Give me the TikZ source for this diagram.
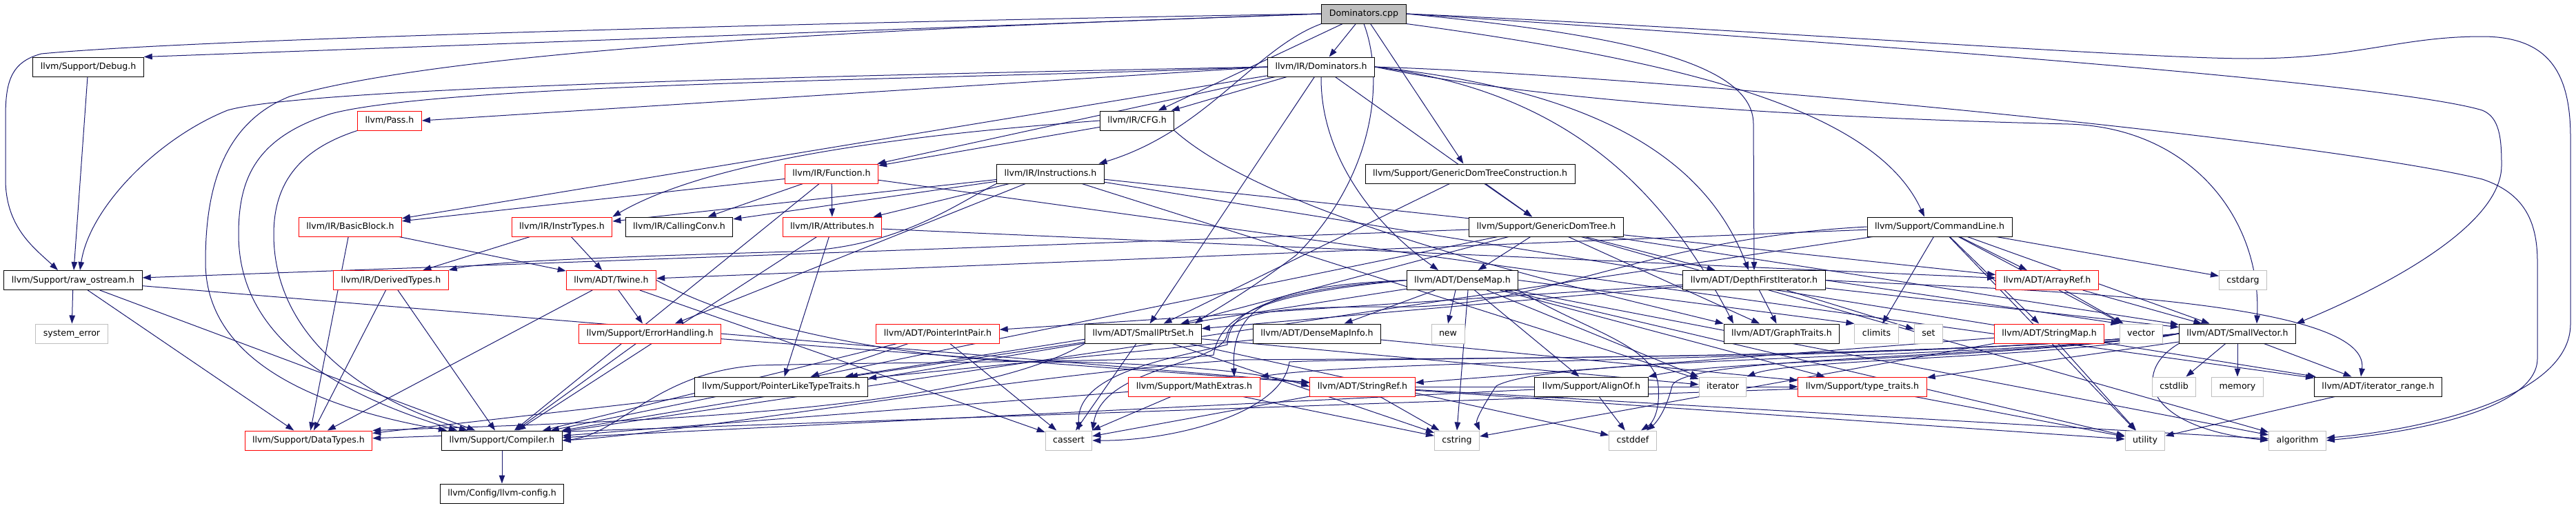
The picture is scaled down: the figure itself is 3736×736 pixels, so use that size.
\documentclass[tikz,border=0pt]{standalone}
\usepackage{fontspec}
\setmainfont{DejaVu Sans}
\usetikzlibrary{arrows.meta}
\definecolor{navyc}{RGB}{25,25,112}
\definecolor{grayb}{RGB}{191,191,191}
\pgfdeclarelayer{bg}
\pgfsetlayers{bg,main}
\begin{document}
\begin{tikzpicture}[x=1pt,y=-1pt,
  box/.style={rectangle, fill=white, line width=1pt, inner xsep=11pt, inner ysep=0pt,
    minimum height=28pt, text height=9.6pt, text depth=2.6pt,
    font=\fontsize{12.6pt}{15pt}\selectfont},
  nb/.style={box, draw=black},
  nr/.style={box, draw=red},
  ng/.style={box, draw=grayb},
  rootn/.style={box, draw=black, fill=grayb},
  conn/.style={draw=navyc, line width=1pt, -{Triangle[length=12pt,width=8.5pt]}}]
\useasboundingbox (0,0) rectangle (3736,736);
% nodes
\node[rootn] (cpp) at (1978,20) {Dominators.cpp};
\node[nb] (debug) at (128,97) {llvm/Support/Debug.h};
\node[nb] (domh) at (1916,97) {llvm/IR/Dominators.h};
\node[nr] (pass) at (565,175) {llvm/Pass.h};
\node[nb] (cfg) at (1649,175) {llvm/IR/CFG.h};
\node[nr] (func) at (1206,252) {llvm/IR/Function.h};
\node[nb] (instr) at (1523.5,252) {llvm/IR/Instructions.h};
\node[nb] (gdtc) at (2132,252) {llvm/Support/GenericDomTreeConstruction.h};
\node[nr] (bb) at (508,329) {llvm/IR/BasicBlock.h};
\node[nr] (itypes) at (815,329) {llvm/IR/InstrTypes.h};
\node[nb] (cc) at (985,329) {llvm/IR/CallingConv.h};
\node[nr] (attr) at (1207,329) {llvm/IR/Attributes.h};
\node[nb] (gdt) at (2242.5,329) {llvm/Support/GenericDomTree.h};
\node[nb] (cl) at (2813,329) {llvm/Support/CommandLine.h};
\node[nb] (raw) at (106,406.5) {llvm/Support/raw\_ostream.h};
\node[nr] (dt) at (567,406.5) {llvm/IR/DerivedTypes.h};
\node[nr] (twine) at (886.5,406.5) {llvm/ADT/Twine.h};
\node[nb] (dm) at (2121,406.5) {llvm/ADT/DenseMap.h};
\node[nb] (dfi) at (2544,406.5) {llvm/ADT/DepthFirstIterator.h};
\node[nr] (ar) at (2969,406.5) {llvm/ADT/ArrayRef.h};
\node[ng] (cstdarg) at (3253,406.5) {cstdarg};
\node[ng] (syserr) at (104,484) {system\_error};
\node[nr] (eh) at (942.5,484) {llvm/Support/ErrorHandling.h};
\node[nr] (pip) at (1360,484) {llvm/ADT/PointerIntPair.h};
\node[nb] (sps) at (1658,484) {llvm/ADT/SmallPtrSet.h};
\node[nb] (dmi) at (1910,484) {llvm/ADT/DenseMapInfo.h};
\node[ng] (new) at (2100,484) {new};
\node[nb] (gt) at (2584,484) {llvm/ADT/GraphTraits.h};
\node[ng] (climits) at (2721.5,484) {climits};
\node[ng] (set) at (2797,484) {set};
\node[nr] (sm) at (2972,484) {llvm/ADT/StringMap.h};
\node[ng] (vector) at (3105,484) {vector};
\node[nb] (sv) at (3245,484) {llvm/ADT/SmallVector.h};
\node[nb] (pltt) at (1133,561) {llvm/Support/PointerLikeTypeTraits.h};
\node[nr] (me) at (1732,561) {llvm/Support/MathExtras.h};
\node[nr] (sr) at (1976,561) {llvm/ADT/StringRef.h};
\node[nb] (ao) at (2308,561) {llvm/Support/AlignOf.h};
\node[ng] (iter) at (2498.5,561) {iterator};
\node[nr] (tt) at (2701,561) {llvm/Support/type\_traits.h};
\node[ng] (cstdlib) at (3153,561) {cstdlib};
\node[ng] (memory) at (3245,561) {memory};
\node[nb] (ir) at (3449,561) {llvm/ADT/iterator\_range.h};
\node[nr] (dtypes) at (447.5,639) {llvm/Support/DataTypes.h};
\node[nb] (comp) at (728,639) {llvm/Support/Compiler.h};
\node[ng] (cassert) at (1550,639) {cassert};
\node[ng] (cstring) at (2113,639) {cstring};
\node[ng] (cstddef) at (2368,639) {cstddef};
\node[ng] (utility) at (3111,639) {utility};
\node[ng] (algo) at (3332,639) {algorithm};
\node[nb] (cfgh) at (728,716) {llvm/Config/llvm-config.h};
% edges
\begin{pgfonlayer}{bg}
\fill[white] (0,0) rectangle (3736,736);
\foreach \s/\t in {cpp/domh, cpp/cfg, cpp/gdtc, debug/raw,
  domh/bb, domh/func, domh/cfg, domh/sps, domh/gdt,
  cfg/func,
  func/attr, func/cc, func/bb, func/comp, func/ir,
  instr/attr, instr/cc, instr/itypes, instr/eh, instr/ar, instr/ir, instr/iter,
  gdtc/gdt, gdtc/sps,
  gdt/dm, gdt/dfi, gdt/gt, gdt/sps, gdt/sv, gdt/comp, gdt/raw, gdt/algo,
  cl/ar, cl/sv, cl/sm, cl/twine, cl/comp, cl/climits, cl/cstdarg, cl/utility, cl/vector,
  bb/twine, bb/dtypes, itypes/twine, itypes/dt,
  attr/ar, attr/pltt, attr/comp, dt/dtypes, dt/comp,
  twine/eh, twine/dtypes, twine/cassert,
  raw/syserr, raw/dtypes, raw/comp, raw/sr,
  eh/comp, eh/sr, pip/pltt, pip/comp, pip/cassert,
  sps/comp, sps/pltt, sps/cassert, sps/cstddef, sps/cstring, sps/iter,
  dmi/pltt, dmi/tt,
  dm/dmi, dm/ao, dm/iter, dm/tt, dm/pltt, dm/algo, dm/utility,
  dfi/gt, dfi/pip, dfi/sps, dfi/sv, dfi/set,
  ar/vector, ar/sv, sm/sr, sm/cstring, sm/utility,
  sv/ir, sv/tt, sv/cstdlib, sv/memory,
  pltt/dtypes, me/comp, me/cassert, me/cstring,
  sr/tt, sr/algo, sr/cassert, sr/cstring, sr/utility,
  ao/comp, ao/cstddef, tt/dtypes, tt/utility, ir/utility, comp/cfgh}
  \draw[conn] (\s) -- (\t);
% routed edges
\draw[conn] (cpp.west) -- (debug.north east);
\draw[conn] (cpp.west) .. controls (1300,30) and (300,55) .. (60,78) .. controls (15,90) and (8,120) .. (8,170) -- (8,260) .. controls (8,330) and (50,360) .. ([xshift=-22pt]raw.north);
\draw[conn] (cpp.west) .. controls (1500,35) and (700,60) .. (420,140) .. controls (320,180) and (298,280) .. (298,380) .. controls (298,520) and (450,590) .. ([xshift=-80pt]comp.north);
\draw[conn] (cpp.east) .. controls (2350,50) and (2543,90) .. (2543,180) -- (dfi.north);
\draw[conn] (cpp.south east) .. controls (2450,90) and (2720,160) .. ([xshift=-22pt]cl.north);
\draw[conn] (cpp.east) .. controls (2500,50) and (3450,115) .. (3600,160) .. controls (3625,170) and (3628,200) .. (3628,240) .. controls (3628,330) and (3450,420) .. (sv.north east);
\draw[conn] (cpp.east) .. controls (2500,40) and (3100,85) .. (3260,85) .. controls (3420,85) and (3480,53) .. (3600,53) .. controls (3700,53) and (3728,110) .. (3728,200) -- (3728,470) .. controls (3728,580) and (3500,625) .. (algo.5);
\draw[conn] (cpp.south) .. controls (2010,120) and (1990,260) .. (1880,370) .. controls (1800,430) and (1760,450) .. ([xshift=75pt]sps.north);
\draw[conn] (cpp.south west) .. controls (1820,70) and (1750,190) .. ([xshift=70pt]instr.north);
\draw[conn] (domh.west) -- (pass.east);
\draw[conn] (domh.west) .. controls (1300,108) and (450,125) .. (330,160) .. controls (230,200) and (130,300) .. ([xshift=10pt]raw.north);
\draw[conn] (domh.west) .. controls (1400,115) and (650,120) .. (480,165) .. controls (370,200) and (346,260) .. (346,340) .. controls (346,470) and (450,560) .. ([xshift=-65pt]comp.north);
\draw[conn] (domh.south) .. controls (1915,220) and (1985,320) .. ([xshift=-35pt]dm.north);
\draw[conn] (domh.east) .. controls (2300,130) and (2470,220) .. ([xshift=-8pt]dfi.north);
\draw[conn] (domh.east) .. controls (2250,130) and (2400,250) .. ([xshift=-70pt]gt.north);
\draw[conn] (domh.east) .. controls (2300,160) and (2800,175) .. (3000,180) .. controls (3180,185) and (3280,320) .. ([xshift=28pt]sv.north);
\draw[conn] (domh.east) .. controls (2400,110) and (3350,200) .. (3600,260) .. controls (3660,280) and (3680,320) .. (3680,380) -- (3680,520) .. controls (3680,590) and (3520,625) .. (algo.east);
\draw[conn] (cfg.west) .. controls (1400,190) and (1050,220) .. (itypes.north east);
\draw[conn] (cfg.south east) .. controls (1850,320) and (2300,420) .. (gt.north west);
\draw[conn] (pass.south west) .. controls (440,215) and (397,260) .. (397,340) .. controls (397,470) and (500,570) .. ([xshift=-50pt]comp.north);
\draw[conn] (instr.south west) .. controls (1380,300) and (1300,360) .. (1150,365) .. controls (900,372) and (700,380) .. (dt.north east);
\draw[conn] (twine.east) .. controls (1100,490) and (1400,530) .. (1550,525) .. controls (1750,530) and (1850,545) .. (sr.west);
\draw[conn] (sps.south west) .. controls (1400,600) and (900,612) .. (dtypes.north east);
\draw[conn] (cl.west) .. controls (2400,345) and (2250,440) .. (2050,445) .. controls (1900,445) and (1790,445) .. (1780,484) .. controls (1775,530) and (1600,530) .. (cassert.north east);
\draw[conn] ([xshift=-10pt]dm.south) -- (new.north);
\draw[conn] ([xshift=8pt]dm.south) -- (cstring.north);
\draw[conn] (dm.south east) .. controls (2300,480) and (2400,500) .. (2405,560) .. controls (2408,600) and (2395,615) .. ([xshift=12pt]cstddef.north);
\draw[conn] (dm.east) -- (climits.north west);
\draw[conn] (dm.west) .. controls (1850,415) and (1785,440) .. ([xshift=58pt]me.north);
\draw[conn] (dm.west) .. controls (1850,420) and (1780,450) .. (1780,500) .. controls (1700,520) and (1560,540) .. ([xshift=15pt]cassert.north);
\draw[conn] (dm.west) .. controls (1850,425) and (1770,450) .. (1760,515) .. controls (1700,525) and (1300,525) .. (1100,530) .. controls (950,540) and (900,630) .. (comp.east);
\draw[conn] (dfi.east) .. controls (2900,420) and (3440,430) .. ([xshift=-25pt]ir.north);
\draw[conn] (dfi.east) -- (vector.north west);
\draw[conn] (sv.south west) .. controls (3090,540) and (3110,620) .. (algo.west);
\draw[conn] (sv.west) .. controls (3000,520) and (2600,520) .. (iter.north east);
\draw[conn] (sv.west) .. controls (2900,522) and (2500,522) .. (ao.north east);
\draw[conn] (sv.west) .. controls (2900,522) and (2440,515) .. (2425,560) .. controls (2415,600) and (2400,615) .. ([xshift=20pt]cstddef.north);
\draw[conn] (sv.west) .. controls (2900,522) and (2250,515) .. (2170,560) .. controls (2150,590) and (2140,610) .. (cstring.north east);
\draw[conn] (sv.west) .. controls (2800,522) and (2000,520) .. (me.north east);
\draw[conn] (sv.west) .. controls (2800,522) and (2000,518) .. (1870,525) .. controls (1860,600) and (1700,640) .. (cassert.east);
\draw[conn] (sv.west) .. controls (2800,522) and (2000,520) .. (1800,522) .. controls (1500,540) and (1000,628) .. (comp.east);
\end{pgfonlayer}
\end{tikzpicture}
\end{document}
